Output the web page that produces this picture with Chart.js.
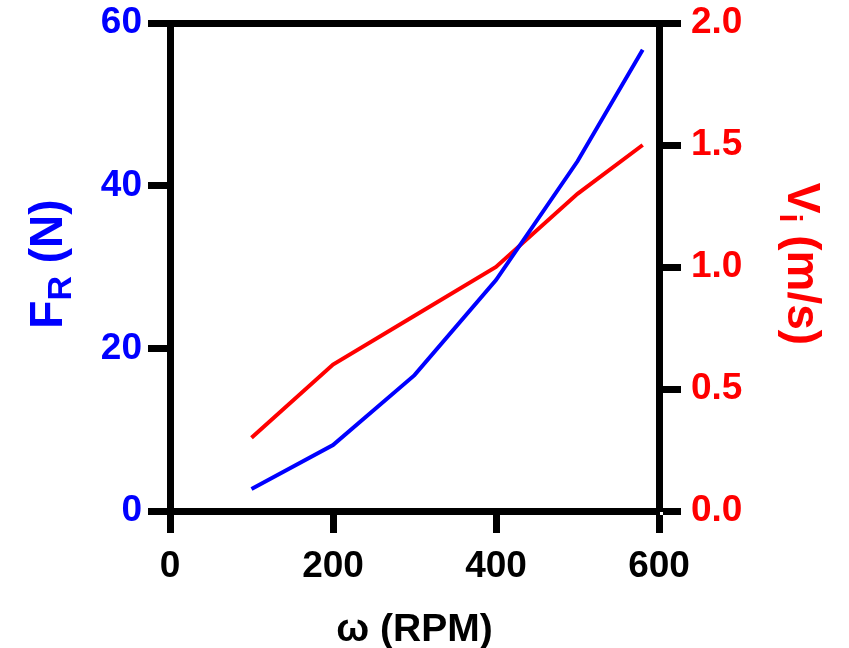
<!DOCTYPE html>
<html>
<head>
<meta charset="utf-8">
<script src="https://cdn.jsdelivr.net/npm/chart.js@4/dist/chart.umd.min.js"></script>
<style>
  html, body { margin: 0; padding: 0; background: #fff; }
  canvas { display: block; }
</style>
</head>
<body>
<canvas id="chart" width="849" height="648"></canvas>
<script>
const rpm = [100, 200, 300, 400, 500, 580];
const forceN = [2.7, 8.1, 16.7, 28.4, 43, 56.7];
const velocity = [0.3, 0.6, 0.8, 1.0, 1.3, 1.5];

const xTicks = [0, 200, 400, 600];
const forceTicks = [0, 20, 40, 60];
const velocityTicks = [0, 0.5, 1.0, 1.5, 2.0];

const FONT = "'Liberation Sans', Arial, sans-serif";
const BLUE = '#0000FF';
const RED = '#FF0000';

const axisStyle = (color) => ({
  grid: { drawOnChartArea: false, drawTicks: true, tickLength: 22, tickWidth: 7, tickColor: '#000', color: '#000' },
  border: { display: true, width: 7, color: '#000' },
  ticks: { color, font: { family: FONT, size: 37, weight: 'bold' } },
});

// no extra room for labels that stick out past the plot
const noPad = (s) => { s.paddingTop = 0; s.paddingBottom = 0; s.paddingLeft = 0; s.paddingRight = 0; };

// axis titles with subscripts are drawn here
const titlesPlugin = {
  id: 'titles',
  afterDraw(chart) {
    const ctx = chart.ctx;
    const drawParts = (parts, cx, cy, angle, color) => {
      ctx.save();
      ctx.translate(cx, cy);
      ctx.rotate(angle);
      ctx.fillStyle = color;
      ctx.textBaseline = 'alphabetic';
      ctx.textAlign = 'left';
      let total = 0;
      parts.forEach(p => { ctx.font = 'bold ' + p.size + 'px ' + FONT; total += ctx.measureText(p.text).width; });
      let x = -total / 2;
      parts.forEach(p => {
        ctx.font = 'bold ' + p.size + 'px ' + FONT;
        ctx.fillText(p.text, x, p.dy);
        x += ctx.measureText(p.text).width;
      });
      ctx.restore();
    };
    const area = chart.chartArea;
    const midY = (area.top + area.bottom) / 2 - 3;
    drawParts([{ text: 'F', size: 46, dy: 13 }, { text: 'R', size: 34, dy: 22 }, { text: ' (N)', size: 46, dy: 13 }],
      49, midY, -Math.PI / 2, BLUE);
    drawParts([{ text: 'V', size: 46, dy: 12 }, { text: 'i', size: 32, dy: 20 }, { text: ' (m/s)', size: 46, dy: 12 }],
      800, midY, Math.PI / 2, RED);
    drawParts([{ text: 'ω (RPM)', size: 39, dy: 14 }], (area.left + area.right) / 2, 627, 0, '#000');
  },
};

new Chart(document.getElementById('chart'), {
  type: 'line',
  data: {
    datasets: [
      {
        label: 'F_R',
        data: rpm.map((x, i) => ({ x, y: forceN[i] })),
        borderColor: BLUE,
        borderWidth: 4,
        pointRadius: 0,
        yAxisID: 'y',
      },
      {
        label: 'V_i',
        data: rpm.map((x, i) => ({ x, y: velocity[i] })),
        borderColor: RED,
        borderWidth: 4,
        pointRadius: 0,
        yAxisID: 'y1',
      },
    ],
  },
  options: {
    responsive: false,
    animation: false,
    layout: { padding: 0 },
    plugins: { legend: { display: false }, tooltip: { enabled: false } },
    scales: {
      x: {
        type: 'linear',
        position: 'bottom',
        min: 0,
        max: 600,
        ...axisStyle('#000'),
        ticks: { ...axisStyle('#000').ticks, padding: 12 },
        afterBuildTicks: (s) => { s.ticks = xTicks.map(v => ({ value: v })); },
        afterFit: (s) => { s.height = 137; noPad(s); },
      },
      x2: {
        type: 'linear',
        position: 'top',
        min: 0,
        max: 600,
        grid: { display: false, drawTicks: false },
        border: { display: true, width: 7, color: '#000' },
        ticks: { display: false },
        afterFit: (s) => { s.height = 23; noPad(s); },
      },
      y: {
        type: 'linear',
        position: 'left',
        min: 0,
        max: 60,
        ...axisStyle(BLUE),
        ticks: { ...axisStyle(BLUE).ticks, padding: 6 },
        afterBuildTicks: (s) => { s.ticks = forceTicks.map(v => ({ value: v })); },
        afterFit: (s) => { s.width = 170; noPad(s); },
      },
      y1: {
        type: 'linear',
        position: 'right',
        min: 0,
        max: 2,
        ...axisStyle(RED),
        ticks: { ...axisStyle(RED).ticks, padding: 10, callback: (v) => v.toFixed(1) },
        afterBuildTicks: (s) => { s.ticks = velocityTicks.map(v => ({ value: v })); },
        afterFit: (s) => { s.width = 190; noPad(s); },
      },
    },
  },
  plugins: [titlesPlugin],
});
</script>
</body>
</html>
